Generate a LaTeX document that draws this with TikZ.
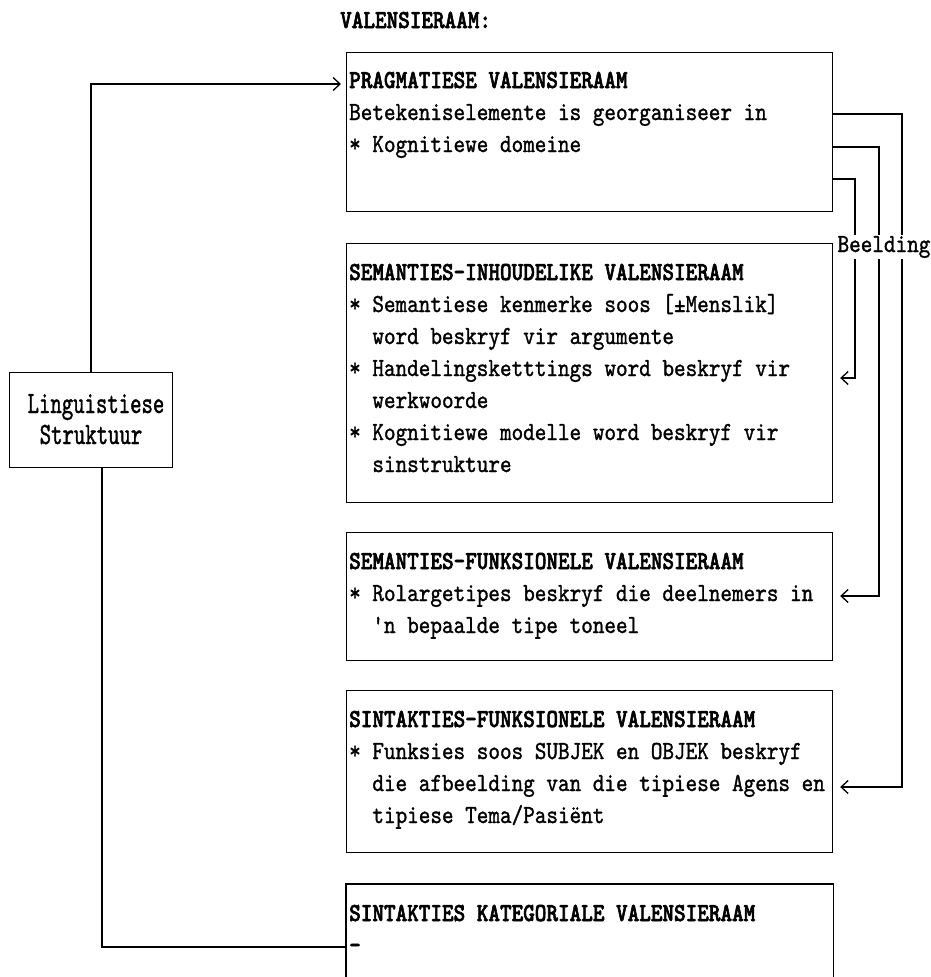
\documentclass[tikz,border=0pt]{standalone}
\usepackage{fontspec}
\newfontfamily\tw{lmmono10-regular}[Extension=.otf, FakeStretch=0.85, FakeBold=1.2]
\newfontfamily\twB{lmmonolt10-bold}[Extension=.otf, FakeStretch=0.85, FakeBold=2.2]
\newfontfamily\twL{lmmono10-regular}[Extension=.otf, FakeStretch=0.70, FakeBold=1.2]
\usetikzlibrary{arrows.meta}
\begin{document}
\begin{tikzpicture}[x=1pt,y=-1pt,
  box/.style={draw, line width=1.2pt, minimum width=486pt, anchor=north west, inner sep=0pt},
  txt/.style={anchor=base west, inner sep=0pt, font=\tw\fontsize{26}{32}\selectfont},
  hd/.style={anchor=base west, inner sep=0pt, font=\twB\fontsize{26}{32}\selectfont},
  lab/.style={anchor=base, inner sep=0pt, font=\twL\fontsize{31}{32}\selectfont},
  conn/.style={line width=1.2pt},
  arr/.style={conn, -{Straight Barb[length=7pt,width=13pt,line width=1.3pt]}}
]
\useasboundingbox (0,0) rectangle (931,977);

\node[hd] (title) at (340,28) {VALENSIERAAM:};

% boxes
\node[box, minimum height=159pt] (b1) at (346,52) {};
\node[box, minimum height=259pt] (b2) at (346,243) {};
\node[box, minimum height=128pt] (b3) at (346,532) {};
\node[box, minimum height=162pt] (b4) at (346,690) {};
\node[box, draw=none, minimum height=110pt] (b5) at (346,884) {};
\draw[line width=1.2pt] (b5.south west) -- (b5.north west) -- (b5.north east) -- (b5.south east);

% box 1 text
\node[hd]  (t1a) at (349,88)  {PRAGMATIESE VALENSIERAAM};
\node[txt] (t1b) at (349,120) {Betekeniselemente is georganiseer in};
\node[txt] (t1c) at (349,152) {* Kognitiewe domeine};

% box 2 text
\node[hd]  (t2a) at (349,280) {SEMANTIES-INHOUDELIKE VALENSIERAAM};
\node[txt] (t2b) at (349,312) {* Semantiese kenmerke soos [±Menslik]};
\node[txt] (t2c) at (349,344) {\ \ word beskryf vir argumente};
\node[txt] (t2d) at (349,376) {* Handelingsketttings word beskryf vir};
\node[txt] (t2e) at (349,408) {\ \ werkwoorde};
\node[txt] (t2f) at (349,440) {* Kognitiewe modelle word beskryf vir};
\node[txt] (t2g) at (349,472) {\ \ sinstrukture};

% box 3 text
\node[hd]  (t3a) at (349,569) {SEMANTIES-FUNKSIONELE VALENSIERAAM};
\node[txt] (t3b) at (349,601) {* Rolargetipes beskryf die deelnemers in};
\node[txt] (t3c) at (349,633) {\ \ 'n bepaalde tipe toneel};

% box 4 text
\node[hd]  (t4a) at (349,727) {SINTAKTIES-FUNKSIONELE VALENSIERAAM};
\node[txt] (t4b) at (349,759) {* Funksies soos SUBJEK en OBJEK beskryf};
\node[txt] (t4c) at (349,791) {\ \ die afbeelding van die tipiese Agens en};
\node[txt] (t4d) at (349,823) {\ \ tipiese Tema/Pasiënt};

% box 5 text
\node[hd]  (t5a) at (349,921) {SINTAKTIES KATEGORIALE VALENSIERAAM};
\node[hd]  (t5b) at (349,953) {-};

% left box
\node[draw, line width=1.2pt, anchor=north west, inner sep=0pt, minimum width=163pt, minimum height=95pt] (ls) at (9,372) {};
\node[lab] (ls1) at (96,413) {Linguistiese};
\node[lab] (ls2) at (91,444) {Struktuur};

% left connectors
\coordinate (ltop) at (91,372);
\coordinate (lbot) at (102,467);
\draw[arr] (ltop) |- ([xshift=-5pt]b1.west |- 0,84);
\draw[conn] (lbot) |- (b5.west |- 0,947);

% right connectors (Beelding)
\draw[arr] (b1.east |- 0,114) -| (902,787) -- ([xshift=7pt]b4.east |- 0,787);
\draw[arr] (b1.east |- 0,147) -| (879,596) -- ([xshift=7pt]b3.east |- 0,596);
\draw[arr] (b1.east |- 0,179) -| (855,378) -- ([xshift=7pt]b2.east |- 0,378);

\node[fill=white, inner sep=1pt, anchor=base, font=\tw\fontsize{26}{32}\selectfont] (beeld) at (884,252) {Beelding};
\end{tikzpicture}
\end{document}
